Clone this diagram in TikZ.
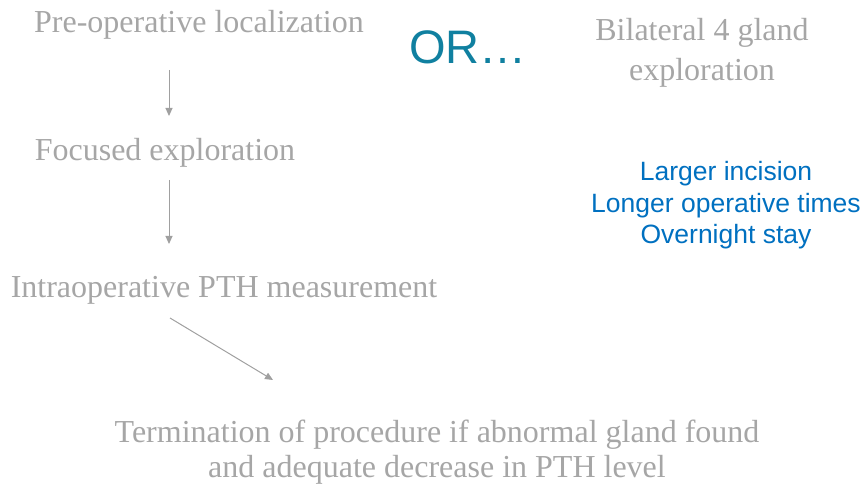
\documentclass[tikz,border=0pt]{standalone}
\usepackage{fontspec}
\setmainfont{Liberation Serif}
\newfontfamily\arialfont{Liberation Sans}
\usetikzlibrary{arrows.meta}
\definecolor{greytext}{RGB}{166,166,166}
\definecolor{greyline}{RGB}{160,160,160}
\definecolor{orteal}{RGB}{16,128,160}
\definecolor{noteblue}{RGB}{0,112,192}
\begin{document}
\begin{tikzpicture}[x=1pt,y=-1pt,
  steptext/.style={text=greytext,font=\fontsize{32}{40}\selectfont,inner sep=0pt,align=center},
  notetext/.style={text=noteblue,font=\arialfont\fontsize{26.5}{31.5}\selectfont,inner sep=0pt,align=center},
  ortext/.style={text=orteal,font=\arialfont\fontsize{47}{50}\selectfont,inner sep=0pt},
  flow/.style={draw=greyline,line width=1pt,-{Triangle[length=8pt,width=7pt]}}]
\useasboundingbox (0,0) rectangle (865,486);
\node[steptext] (pre) at (199,25) {Pre-operative localization};
\node[steptext] (foc) at (165,153) {Focused exploration};
\node[steptext] (intra) at (224,290) {Intraoperative PTH measurement};
\node[steptext,font=\fontsize{32}{35}\selectfont] (term) at (437,452) {Termination of procedure if abnormal gland found\\and adequate decrease in PTH level};
\node[steptext] (bil) at (702,53) {Bilateral 4 gland\\exploration};
\node[ortext] (or) at (468,47) {OR\ldots};
\node[notetext] (note) at (726,205.5) {Larger incision\\Longer operative times\\Overnight stay};
\coordinate (a1s) at (169,70);
\coordinate (a1e) at (169,116);
\coordinate (a2s) at (169,180);
\coordinate (a2e) at (169,244);
\coordinate (a3s) at (170,318);
\coordinate (a3e) at (273,380);
\draw[flow] (a1s) -- (a1e);
\draw[flow] (a2s) -- (a2e);
\draw[flow] (a3s) -- (a3e);
\end{tikzpicture}
\end{document}
